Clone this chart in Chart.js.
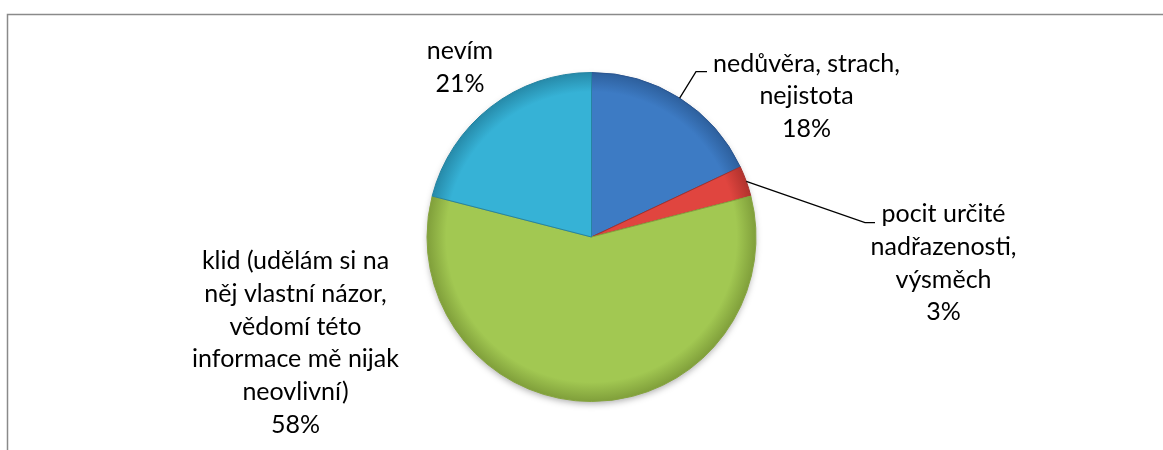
<!DOCTYPE html>
<html>
<head>
<meta charset="utf-8">
<script src="https://cdn.jsdelivr.net/npm/chart.js@4.4.0/dist/chart.umd.min.js"></script>
<style>
    body { margin: 0; background: #ffffff; }
    #wrap { position: relative; width: 1163px; height: 450px; }
</style>
</head>
<body>
<div id="wrap"><canvas id="pieChart" width="1163" height="450"></canvas></div>
<script>
// Data
const categories = [
    'nedůvěra, strach, nejistota',
    'pocit určité nadřazenosti, výsměch',
    'klid (udělám si na něj vlastní názor, vědomí této informace mě nijak neovlivní)',
    'nevím'
];
const shares = [18, 3, 58, 21];

// Label lines as wrapped in the picture
const labelLines = [
    ['nedůvěra, strach,', 'nejistota'],
    ['pocit určité', 'nadřazenosti,', 'výsměch'],
    ['klid (udělám si na', 'něj vlastní názor,', 'vědomí této', 'informace mě nijak', 'neovlivní)'],
    ['nevím']
];

// Slice colours (base, rim, edge)
const sliceColors = ['#3d7bc4', '#e0453f', '#a2c852', '#36b2d6'];
const rimColors = ['#2d5f9c', '#b0322d', '#7f9e3a', '#2689a8'];
const edgeColors = ['#2a5590', '#a8302b', '#86a43f', '#2584a2'];

// Label layout, offsets from the pie centre
const labelLayout = [
    { dx: 215, dy: -165.3, leader: [[104.5, -165.3], [115.5, -165.3]] },
    { dx: 352, dy: -14.7, leader: [[273.5, -14.3], [283.5, -14.3]] },
    { dx: -296, dy: 32.3, leader: null },
    { dx: -131.5, dy: -178, leader: null }
];
const lineHeight = 32.7;
const labelFont = '25px Lato, "Open Sans", sans-serif';

function radialFill(context, i) {
    const chart = context.chart;
    const area = chart.chartArea;
    if (!area) return sliceColors[i];
    const cx = (area.left + area.right) / 2;
    const cy = (area.top + area.bottom) / 2;
    const r = Math.min(area.right - area.left, area.bottom - area.top) / 2;
    const g = chart.ctx.createRadialGradient(cx, cy, 0, cx, cy, r);
    g.addColorStop(0, sliceColors[i]);
    g.addColorStop(0.88, sliceColors[i]);
    g.addColorStop(1, rimColors[i]);
    return g;
}

const framePlugin = {
    id: 'frame',
    beforeDraw(chart) {
        const ctx = chart.ctx;
        ctx.save();
        ctx.strokeStyle = '#8a8a8a';
        ctx.lineWidth = 1.5;
        ctx.beginPath();
        ctx.moveTo(7.5, 450);
        ctx.lineTo(7.5, 14.5);
        ctx.lineTo(1163, 14.5);
        ctx.stroke();
        ctx.restore();
    }
};

const shadowPlugin = {
    id: 'pieShadow',
    beforeDatasetsDraw(chart) {
        const arc = chart.getDatasetMeta(0).data[0];
        if (!arc) return;
        const ctx = chart.ctx;
        ctx.save();
        ctx.shadowColor = 'rgba(0, 0, 0, 0.35)';
        ctx.shadowBlur = 7;
        ctx.shadowOffsetY = 3;
        ctx.fillStyle = '#ffffff';
        ctx.beginPath();
        ctx.arc(arc.x, arc.y, arc.outerRadius - 1, 0, Math.PI * 2);
        ctx.fill();
        ctx.restore();
    }
};

const labelPlugin = {
    id: 'sliceLabels',
    afterDatasetsDraw(chart) {
        const ctx = chart.ctx;
        const arcs = chart.getDatasetMeta(0).data;
        ctx.save();
        ctx.font = labelFont;
        ctx.fillStyle = '#000000';
        ctx.textAlign = 'center';
        ctx.textBaseline = 'alphabetic';
        arcs.forEach((arc, i) => {
            const layout = labelLayout[i];
            const lines = labelLines[i].concat([shares[i] + '%']);
            lines.forEach((line, k) => {
                ctx.fillText(line, arc.x + layout.dx, arc.y + layout.dy + k * lineHeight);
            });

            if (layout.leader) {
                const mid = (arc.startAngle + arc.endAngle) / 2;
                const r = arc.outerRadius;
                ctx.strokeStyle = '#000000';
                ctx.lineWidth = 1.3;
                ctx.beginPath();
                ctx.moveTo(arc.x + Math.cos(mid) * r, arc.y + Math.sin(mid) * r);
                layout.leader.forEach(p => ctx.lineTo(arc.x + p[0], arc.y + p[1]));
                ctx.stroke();
            }
        });
        ctx.restore();
    }
};

new Chart(document.getElementById('pieChart'), {
    type: 'pie',
    data: {
        labels: categories,
        datasets: [{
            data: shares,
            backgroundColor: (context) => radialFill(context, context.dataIndex),
            borderColor: edgeColors,
            borderWidth: 1
        }]
    },
    options: {
        responsive: false,
        animation: false,
        layout: {
            padding: { top: 72, bottom: 48, left: 20, right: 0 }
        },
        plugins: {
            legend: { display: false },
            tooltip: { enabled: false }
        }
    },
    plugins: [framePlugin, shadowPlugin, labelPlugin]
});
</script>
</body>
</html>
